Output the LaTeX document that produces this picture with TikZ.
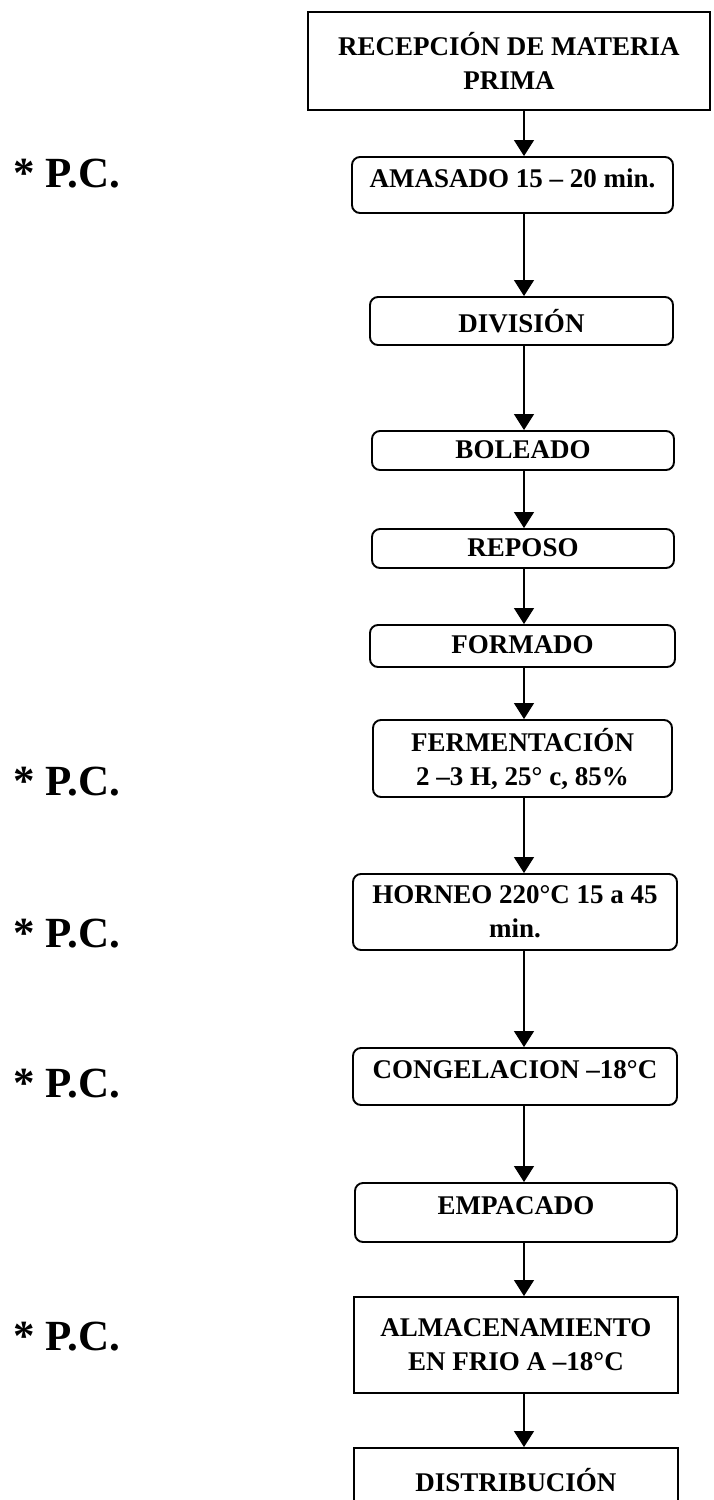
\documentclass[tikz,border=0pt]{standalone}
\usepackage{fontspec}
\setmainfont{Liberation Serif}
\usetikzlibrary{arrows.meta}
\begin{document}
\begin{tikzpicture}[x=1pt,y=-1pt,
  sqbox/.style={draw, line width=1.9pt, inner sep=0pt, align=center,
    font=\fontsize{27}{34}\selectfont\bfseries},
  rbox/.style={sqbox, rounded corners=8pt},
  arr/.style={line width=1.2pt, -{Triangle[width=20pt,length=16pt]}},
  pc/.style={anchor=base west, inner sep=0pt,
    font=\fontsize{43}{50}\selectfont\bfseries}]
\useasboundingbox (0,0) rectangle (713,1500);

\node[sqbox, minimum width=402pt, minimum height=98pt] (recep) at (509,61)
  {RECEPCIÓN DE MATERIA\\PRIMA};
\node[rbox, minimum width=321pt, minimum height=56pt, text depth=14pt] (amas) at (512.5,185)
  {AMASADO 15 – 20 min.};
\node[rbox, minimum width=303pt, minimum height=48pt] (div) at (521.5,321)
  {DIVISIÓN};
\node[rbox, minimum width=302pt, minimum height=39pt, text depth=2pt] (bol) at (523,450.5)
  {BOLEADO};
\node[rbox, minimum width=302pt, minimum height=39pt, text depth=2pt] (rep) at (523,548.5)
  {REPOSO};
\node[rbox, minimum width=305pt, minimum height=42pt, text depth=2pt] (form) at (522.5,646)
  {FORMADO};
\node[rbox, minimum width=299pt, minimum height=77pt] (ferm) at (522.5,758.5)
  {FERMENTACIÓN\\2 –3 H, 25° c, 85\%};
\node[rbox, minimum width=324pt, minimum height=76pt] (horn) at (515,912)
  {HORNEO 220°C 15 a 45\\min.};
\node[rbox, minimum width=324pt, minimum height=57pt, text depth=13pt] (cong) at (515,1076.5)
  {CONGELACION –18°C};
\node[rbox, minimum width=322pt, minimum height=59pt, text depth=14pt] (emp) at (516,1212.5)
  {EMPACADO};
\node[sqbox, minimum width=324pt, minimum height=96pt] (alm) at (516,1345)
  {ALMACENAMIENTO\\EN FRIO A –18°C};
\node[sqbox, minimum width=324pt, minimum height=64pt] (dist) at (516,1480)
  {DISTRIBUCIÓN};

\coordinate (ax) at (524,0);
\draw[arr] (recep.south -| ax) -- (amas.north -| ax);
\draw[arr] (amas.south -| ax) -- (div.north -| ax);
\draw[arr] (div.south -| ax) -- (bol.north -| ax);
\draw[arr] (bol.south -| ax) -- (rep.north -| ax);
\draw[arr] (rep.south -| ax) -- (form.north -| ax);
\draw[arr] (form.south -| ax) -- (ferm.north -| ax);
\draw[arr] (ferm.south -| ax) -- (horn.north -| ax);
\draw[arr] (horn.south -| ax) -- (cong.north -| ax);
\draw[arr] (cong.south -| ax) -- (emp.north -| ax);
\draw[arr] (emp.south -| ax) -- (alm.north -| ax);
\draw[arr] (alm.south -| ax) -- (dist.north -| ax);

\node[pc] (pc1) at (13,187) {* P.C.};
\node[pc] (pc2) at (13,795) {* P.C.};
\node[pc] (pc3) at (13,947) {* P.C.};
\node[pc] (pc4) at (13,1097) {* P.C.};
\node[pc] (pc5) at (13,1350) {* P.C.};
\end{tikzpicture}
\end{document}
